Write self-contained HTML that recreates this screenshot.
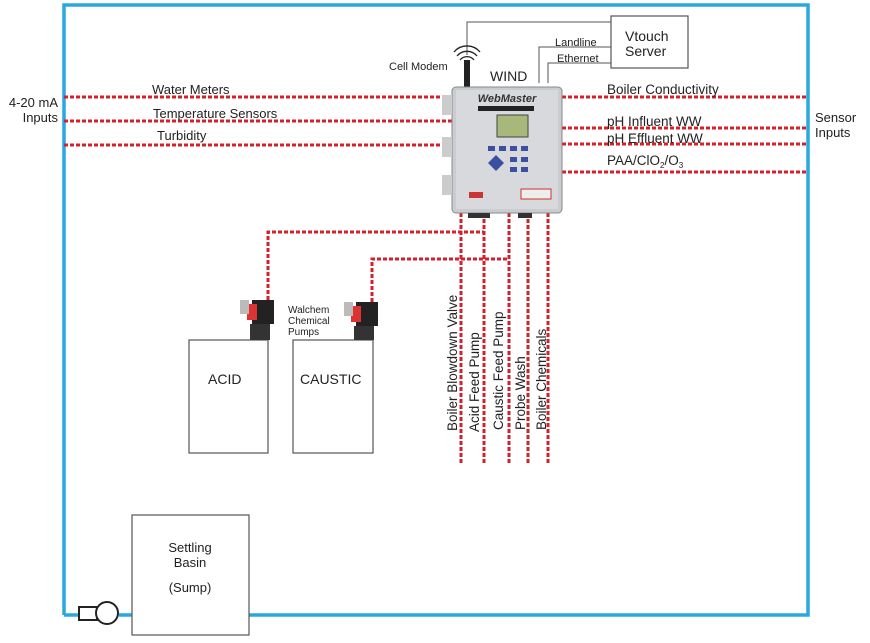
<!DOCTYPE html>
<html><head><meta charset="utf-8"><style>
html,body{margin:0;padding:0;background:#fff;}
svg{display:block;font-family:"Liberation Sans",sans-serif;}
</style></head><body>
<svg width="870" height="643" viewBox="0 0 870 643" xmlns="http://www.w3.org/2000/svg">
<g fill="none" stroke="#29a8e0" stroke-width="3.5">
<path d="M64 615 V5 H808 V615 H249"/>
<path d="M64 615 H80"/>
<path d="M119 615 H132"/>
</g>
<rect x="79" y="607" width="18" height="13" fill="#fff" stroke="#222" stroke-width="2"/>
<circle cx="107" cy="613" r="11" fill="#fff" stroke="#222" stroke-width="2"/>
<g fill="#fff" stroke="#555" stroke-width="1.2">
<rect x="132" y="515" width="117" height="120"/>
<rect x="189" y="340" width="79" height="113"/>
<rect x="293" y="340" width="80" height="113"/>
<rect x="611" y="16" width="77" height="52"/>
</g>
<g fill="none" stroke="#555" stroke-width="1">
<path d="M467 55 V22 H611"/>
<path d="M539 83 V47 H611"/>
<path d="M548 83 V63 H611"/>
</g>
<g fill="none" stroke="#d4202a" stroke-width="3" stroke-dasharray="4,2">
<path d="M64 97 H452"/><path d="M64 121 H452"/><path d="M64 145 H452"/>
<path d="M562 97 H808"/><path d="M562 128 H808"/><path d="M562 144 H808"/><path d="M562 172 H808"/>
<path d="M461 213 V463"/><path d="M484 213 V463"/><path d="M509 213 V463"/><path d="M528 213 V463"/><path d="M548 213 V463"/>
<path d="M268 300 V232 H484"/>
<path d="M372 302 V259 H509"/>
</g>
<rect x="464" y="60" width="6" height="28" fill="#222"/>
<rect x="452" y="87" width="110" height="126" rx="4" fill="#c9ccd0" stroke="#888"/>
<rect x="456" y="90" width="102" height="119" fill="#d7d9dc"/>
<text x="507" y="102" font-size="11" font-weight="bold" font-style="italic" fill="#333" text-anchor="middle">WebMaster</text>
<rect x="478" y="106" width="56" height="5" fill="#222"/>
<rect x="497" y="115" width="31" height="22" fill="#a8b87a" stroke="#444"/>
<g fill="#3c4fa0">
<rect x="488" y="146" width="7" height="5"/><rect x="499" y="146" width="7" height="5"/><rect x="510" y="146" width="7" height="5"/><rect x="521" y="146" width="7" height="5"/>
<rect x="510" y="157" width="7" height="5"/><rect x="521" y="157" width="7" height="5"/><rect x="510" y="167" width="7" height="5"/><rect x="521" y="167" width="7" height="5"/>
<path d="M496 155 l8 8 -8 8 -8 -8z"/>
</g>
<rect x="469" y="192" width="14" height="6" fill="#c33"/>
<rect x="521" y="189" width="30" height="10" fill="#eee" stroke="#c33"/>
<rect x="442" y="95" width="10" height="20" fill="#ccc"/><rect x="442" y="137" width="10" height="20" fill="#ccc"/><rect x="442" y="175" width="10" height="20" fill="#ccc"/>
<rect x="468" y="213" width="22" height="5" fill="#333"/><rect x="518" y="213" width="14" height="5" fill="#333"/>
<g>
<rect x="252" y="300" width="22" height="24" fill="#222"/><rect x="247" y="304" width="10" height="16" fill="#d33"/><rect x="240" y="300" width="9" height="14" fill="#bbb"/><rect x="250" y="324" width="20" height="16" fill="#333"/>
<rect x="356" y="302" width="22" height="24" fill="#222"/><rect x="351" y="306" width="10" height="16" fill="#d33"/><rect x="344" y="302" width="9" height="14" fill="#bbb"/><rect x="354" y="326" width="20" height="14" fill="#333"/>
</g>
<g fill="#222" font-size="13">
<text x="152" y="94">Water Meters</text>
<text x="153" y="118">Temperature Sensors</text>
<text x="157" y="140">Turbidity</text>
<text x="58" y="107" text-anchor="end">4-20 mA</text>
<text x="58" y="122" text-anchor="end">Inputs</text>
<text x="607" y="94" font-size="13.5">Boiler Conductivity</text>
<text x="607" y="126" font-size="13.5">pH Influent WW</text>
<text x="607" y="143" font-size="13.5">pH Effluent WW</text>
<text x="607" y="165" font-size="13.5">PAA/ClO<tspan font-size="8" dy="3">2</tspan><tspan dy="-3">/O</tspan><tspan font-size="8" dy="3">3</tspan></text>
<text x="815" y="122">Sensor</text>
<text x="815" y="137">Inputs</text>
<text x="625" y="41" font-size="14">Vtouch</text>
<text x="625" y="56" font-size="14">Server</text>
<text x="555" y="46" font-size="11">Landline</text>
<text x="557" y="62" font-size="11">Ethernet</text>
<text x="389" y="70" font-size="11">Cell Modem</text>
<text x="490" y="81" font-size="14">WIND</text>
<text x="288" y="313" font-size="10">Walchem</text>
<text x="288" y="324" font-size="10">Chemical</text>
<text x="288" y="335" font-size="10">Pumps</text>
<text x="208" y="384" font-size="14">ACID</text>
<text x="300" y="384" font-size="14">CAUSTIC</text>
<text x="190" y="552" font-size="13" text-anchor="middle">Settling</text>
<text x="190" y="567" font-size="13" text-anchor="middle">Basin</text>
<text x="190" y="592" font-size="13" text-anchor="middle">(Sump)</text>
<text transform="translate(457,431) rotate(-90)" font-size="13.5">Boiler Blowdown Valve</text>
<text transform="translate(479,432) rotate(-90)" font-size="13.5">Acid Feed Pump</text>
<text transform="translate(503,430) rotate(-90)" font-size="13.5">Caustic Feed Pump</text>
<text transform="translate(525,430) rotate(-90)" font-size="13.5">Probe Wash</text>
<text transform="translate(546,430) rotate(-90)" font-size="13.5">Boiler Chemicals</text>
</g>
<g fill="none" stroke="#222" stroke-width="1.3">
<path d="M460 60 a9 9 0 0 1 14 0"/><path d="M457 56 a13 13 0 0 1 20 0"/><path d="M454 52 a17 17 0 0 1 26 0"/>
</g>
</svg>
</body></html>
